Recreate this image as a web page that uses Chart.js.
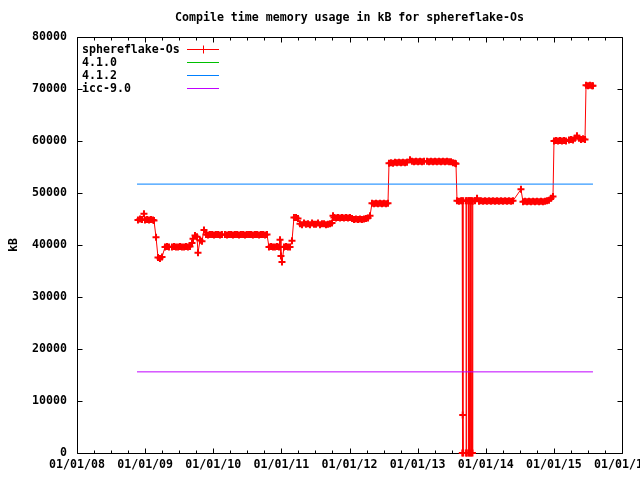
<!DOCTYPE html>
<html>
<head>
<meta charset="utf-8">
<script src="https://cdn.jsdelivr.net/npm/chart.js@4"></script>
<style>
  html, body { margin: 0; padding: 0; background: #fff; }
  #chartContainer { width: 640px; height: 480px; }
</style>
</head>
<body>
<div id="chartContainer"><canvas id="chart" width="640" height="480"></canvas></div>
<script>
// sample dates as fractional years, memory usage in kB
const sampleYear = [
    2008.895, 2008.925, 2008.954, 2008.983, 2008.998, 2009.028, 2009.057, 2009.086, 2009.116, 2009.130,
    2009.160, 2009.189, 2009.218, 2009.248,
    2009.292, 2009.321, 2009.350, 2009.394, 2009.424, 2009.453, 2009.483, 2009.512, 2009.541, 2009.571, 2009.600, 2009.629, 2009.659,
    2009.688, 2009.703, 2009.732, 2009.761, 2009.776, 2009.806, 2009.835, 2009.864,
    2009.894, 2009.923, 2009.952, 2009.982, 2010.011, 2010.040, 2010.070, 2010.099, 2010.128,
    2010.172, 2010.202, 2010.231, 2010.261, 2010.290, 2010.319, 2010.349, 2010.378, 2010.407, 2010.437, 2010.466, 2010.495, 2010.525,
    2010.554, 2010.583, 2010.613, 2010.642, 2010.672, 2010.701, 2010.730, 2010.760, 2010.789,
    2010.818, 2010.848, 2010.877, 2010.906, 2010.936, 2010.965, 2010.980, 2010.994, 2011.009, 2011.039, 2011.068, 2011.097, 2011.127,
    2011.156, 2011.185, 2011.215, 2011.244,
    2011.273, 2011.303, 2011.332, 2011.361, 2011.391, 2011.420, 2011.450, 2011.479, 2011.508, 2011.538, 2011.567, 2011.596, 2011.626, 2011.655, 2011.684, 2011.714, 2011.743,
    2011.758, 2011.772, 2011.802, 2011.831, 2011.861, 2011.890, 2011.919, 2011.949, 2011.978, 2012.007, 2012.037,
    2012.066, 2012.095, 2012.125, 2012.154, 2012.183, 2012.213, 2012.242, 2012.272, 2012.301,
    2012.330, 2012.360, 2012.389, 2012.418, 2012.448, 2012.477, 2012.506, 2012.536, 2012.565,
    2012.580, 2012.609, 2012.639, 2012.668, 2012.697, 2012.727, 2012.756, 2012.785, 2012.815, 2012.844,
    2012.888, 2012.917, 2012.947, 2012.976, 2013.006, 2013.035, 2013.064, 2013.094,
    2013.138, 2013.167, 2013.196, 2013.226, 2013.255, 2013.284, 2013.314, 2013.343, 2013.372, 2013.402, 2013.431, 2013.461, 2013.490,
    2013.519, 2013.549, 2013.563,
    2013.578, 2013.607, 2013.637, 2013.654, 2013.656, 2013.662, 2013.669, 2013.670, 2013.710, 2013.712, 2013.719, 2013.720,
    2013.744, 2013.745, 2013.754, 2013.761, 2013.769, 2013.776, 2013.783, 2013.791, 2013.798, 2013.805, 2013.810,
    2013.842, 2013.872, 2013.901, 2013.930, 2013.960, 2013.989, 2014.018, 2014.048, 2014.077, 2014.106,
    2014.136, 2014.165, 2014.194, 2014.224, 2014.253, 2014.283, 2014.312, 2014.341, 2014.371, 2014.400,
    2014.517,
    2014.547, 2014.576, 2014.606, 2014.635, 2014.664, 2014.694, 2014.723, 2014.752, 2014.782, 2014.811, 2014.840, 2014.870, 2014.899, 2014.928,
    2014.958, 2014.987,
    2015.002, 2015.031, 2015.061, 2015.090, 2015.119, 2015.149, 2015.178,
    2015.222, 2015.251, 2015.281, 2015.310, 2015.339, 2015.369, 2015.398, 2015.428, 2015.457,
    2015.472, 2015.501, 2015.530, 2015.560, 2015.574
];
const memoryKb = [
    44800, 45000, 44900, 46000, 44800, 44900, 44800, 44900, 44800, 44700,
    41500, 37600, 37400, 37700,
    39600, 39700, 39600, 39600, 39700, 39600, 39600, 39700, 39600, 39600, 39700, 39600, 39700,
    40400, 41200, 41800, 41600, 38500, 40900, 40700, 42900,
    42000, 41900, 42000, 42000, 41900, 42000, 42000, 41900, 42000,
    42000, 41900, 42000, 42000, 41900, 42000, 42000, 41900, 42000, 42000, 41900, 42000, 42000,
    42000, 41900, 42000, 42000, 41900, 42000, 42000, 41900, 42000,
    39600, 39700, 39600, 39600, 39700, 39600, 41000, 37900, 36700, 39600, 39700, 39600, 39600,
    40800, 45300, 45300, 45100,
    44100, 43900, 44200, 44000, 44100, 43900, 44200, 44000, 44000, 44200, 43900, 44100, 44100, 43900, 44000, 44100, 44200,
    45600, 45300, 45200, 45300, 45200, 45300, 45200, 45300, 45200, 45300, 45100,
    44900, 45000, 44900, 45000, 44900, 45000, 45100, 45200, 45600,
    48000, 47900, 48000, 47900, 48000, 47900, 48000, 47900, 48000,
    55700, 55800, 55700, 55900, 55800, 55900, 55800, 55900, 55800, 55900,
    56400, 56100, 56000, 56100, 56000, 56100, 56000, 56100,
    56100, 56000, 56100, 56000, 56100, 56000, 56100, 56000, 56100, 56000, 56100, 56000, 56000,
    55800, 55700, 55600,
    48500, 48400, 48500, 48500, 0, 7300, 0, 48500, 48500, 0, 0, 48500,
    48500, 0, 48500, 0, 48500, 0, 48500, 0, 48500, 0, 48400,
    48500, 49000, 48400, 48500, 48400, 48500, 48400, 48500, 48400, 48500,
    48400, 48500, 48400, 48500, 48400, 48500, 48400, 48500, 48400, 48500,
    50700,
    48300, 48400, 48300, 48400, 48300, 48400, 48300, 48400, 48300, 48400, 48300, 48400, 48500, 48600,
    49000, 49300,
    60000, 60100, 60000, 60100, 60000, 60100, 60000,
    60200, 60300, 60200, 60500, 61000, 60500, 60300, 60400, 60300,
    70700, 70600, 70700, 70600, 70600
];

// reference compilers, flat over the same period
const baselineYear = [2008.881, 2015.574];
const gcc410Kb = [];
const gcc412Kb = [51700, 51700];
const icc90Kb = [15600, 15600];

const yearTicks = [2008, 2009, 2010, 2011, 2012, 2013, 2014, 2015, 2016];
const yTicks = [0, 10000, 20000, 30000, 40000, 50000, 60000, 70000, 80000];

const FONT = { family: 'DejaVu Sans Mono', size: 11.6, weight: 'bold' };
const SERIES_COLORS = ['#ff0000', '#00c000', '#0080ff', '#c000ff'];

function toPoints(xs, ys) {
    return ys.map((y, i) => ({ x: xs[i], y: y }));
}

function formatYearTick(value) {
    if (!yearTicks.includes(value)) {
        return '';
    }
    return '01/01/' + String(value % 100).padStart(2, '0');
}

// crosses packed closely together get a heavier stroke so the runs read as solid blocks
function crossWidth(context) {
    const i = context.dataIndex;
    const prev = i > 0 ? sampleYear[i] - sampleYear[i - 1] : 1;
    const next = i < sampleYear.length - 1 ? sampleYear[i + 1] - sampleYear[i] : 1;
    return Math.min(prev, next) < 0.035 ? 2 : 1;
}

// gnuplot style frame with inward ticks on all four sides
const gnuplotFrame = {
    id: 'gnuplotFrame',
    beforeDatasetsDraw(chart) {
        const { ctx, chartArea: a } = chart;
        const L = Math.round(a.left) + 0.5, R = Math.round(a.right) + 0.5;
        const T = Math.round(a.top) + 0.5, B = Math.round(a.bottom) + 0.5;
        ctx.save();
        ctx.strokeStyle = '#000';
        ctx.lineWidth = 1;
        ctx.beginPath();
        ctx.rect(L, T, R - L, B - T);
        chart.scales.x.ticks.forEach(t => {
            const px = Math.round(chart.scales.x.getPixelForValue(t.value)) + 0.5;
            const len = t.label !== '' ? 5 : 3;
            ctx.moveTo(px, B); ctx.lineTo(px, B - len);
            ctx.moveTo(px, T); ctx.lineTo(px, T + len);
        });
        chart.scales.y.ticks.forEach(t => {
            const py = Math.round(chart.scales.y.getPixelForValue(t.value)) + 0.5;
            ctx.moveTo(L, py); ctx.lineTo(L + 5, py);
            ctx.moveTo(R, py); ctx.lineTo(R - 5, py);
        });
        ctx.stroke();
        ctx.restore();
    }
};

// key drawn inside the plot, text first then the line sample
const insideKey = {
    id: 'insideKey',
    afterDraw(chart) {
        const { ctx, chartArea: a } = chart;
        ctx.save();
        ctx.font = 'bold 11.6px "DejaVu Sans Mono"';
        ctx.textBaseline = 'middle';
        ctx.textAlign = 'left';
        chart.data.datasets.forEach((ds, i) => {
            const y = Math.round(a.top + 12 + i * 13.1) + 0.5;
            const x0 = Math.round(a.left) + 110, x1 = Math.round(a.left) + 142;
            ctx.fillStyle = '#000';
            ctx.fillText(ds.label, a.left + 5, y);
            ctx.strokeStyle = SERIES_COLORS[i];
            ctx.lineWidth = 1;
            ctx.beginPath();
            ctx.moveTo(x0, y);
            ctx.lineTo(x1, y);
            if (ds.pointStyle === 'cross') {
                ctx.moveTo(x0 + 16.5, y - 4);
                ctx.lineTo(x0 + 16.5, y + 4);
            }
            ctx.stroke();
        });
        ctx.restore();
    }
};

const ctx = document.getElementById('chart');
window.myChart = new Chart(ctx, {
    type: 'line',
    data: {
        datasets: [{
            label: 'sphereflake-Os',
            data: toPoints(sampleYear, memoryKb),
            borderColor: SERIES_COLORS[0],
            backgroundColor: SERIES_COLORS[0],
            borderWidth: 1,
            pointStyle: 'cross',
            pointRadius: 3.5,
            pointBorderWidth: crossWidth,
            tension: 0,
            fill: false,
            order: 1,
            clip: false
        }, {
            label: '4.1.0',
            data: toPoints(baselineYear, gcc410Kb),
            borderColor: SERIES_COLORS[1],
            borderWidth: 1,
            pointRadius: 0,
            fill: false
        }, {
            label: '4.1.2',
            data: toPoints(baselineYear, gcc412Kb),
            borderColor: SERIES_COLORS[2],
            borderWidth: 1,
            pointRadius: 0,
            fill: false
        }, {
            label: 'icc-9.0',
            data: toPoints(baselineYear, icc90Kb),
            borderColor: SERIES_COLORS[3],
            borderWidth: 1,
            pointRadius: 0,
            fill: false
        }]
    },
    options: {
        responsive: false,
        animation: false,
        devicePixelRatio: 1,
        layout: { padding: { left: 0, right: 18, top: 0, bottom: 0 } },
        plugins: {
            legend: { display: false },
            tooltip: { enabled: false },
            title: {
                display: true,
                text: 'Compile time memory usage in kB for sphereflake-Os',
                color: '#000',
                font: FONT,
                fullSize: false,
                padding: { top: 11, bottom: 12 }
            }
        },
        scales: {
            x: {
                type: 'linear',
                min: 2008,
                max: 2016,
                grid: { display: false, drawTicks: false },
                border: { display: false },
                afterBuildTicks(scale) {
                    const ticks = [];
                    yearTicks.forEach((y, i) => {
                        ticks.push({ value: y });
                        if (i < yearTicks.length - 1) {
                            ticks.push({ value: y + 0.25 }, { value: y + 0.5 }, { value: y + 0.75 });
                        }
                    });
                    scale.ticks = ticks;
                },
                ticks: {
                    autoSkip: false,
                    minRotation: 0,
                    maxRotation: 0,
                    padding: 5,
                    color: '#000',
                    font: FONT,
                    callback: formatYearTick
                },
                afterFit(scale) {
                    scale.height = 27;
                    scale.paddingLeft = 0;
                    scale.paddingRight = 0;
                }
            },
            y: {
                min: 0,
                max: 80000,
                grid: { display: false, drawTicks: false },
                border: { display: false },
                afterBuildTicks(scale) {
                    scale.ticks = yTicks.map(v => ({ value: v }));
                },
                ticks: {
                    padding: 10,
                    color: '#000',
                    font: FONT,
                    callback: v => String(v)
                },
                title: {
                    display: true,
                    text: 'kB',
                    color: '#000',
                    font: FONT,
                    padding: { top: 7, bottom: 0 }
                },
                afterFit(scale) {
                    scale.width = 77;
                }
            }
        }
    },
    plugins: [gnuplotFrame, insideKey]
});
</script>
</body>
</html>
